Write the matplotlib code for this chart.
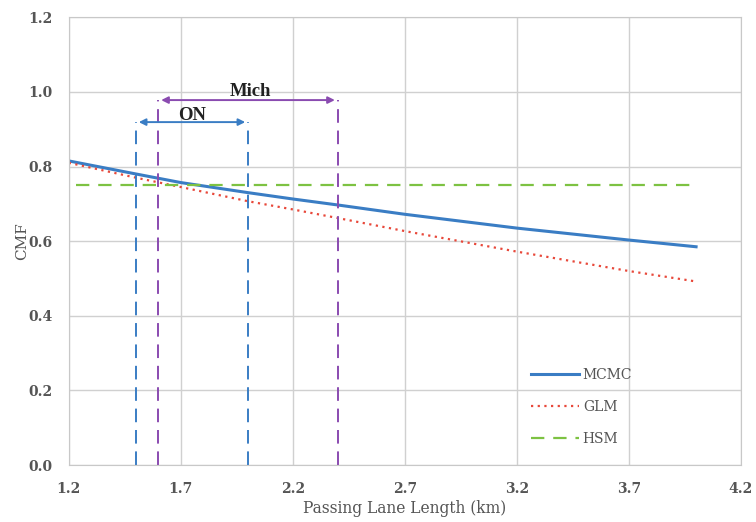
import matplotlib.pyplot as plt

# dados
x = [1.2, 1.5, 1.7, 2.0, 2.2, 2.4, 2.7, 3.2, 3.7, 4.0]
mcmc = [0.815, 0.78, 0.757, 0.73, 0.713, 0.697, 0.672, 0.635, 0.603, 0.585]
glm = [0.81, 0.77, 0.745, 0.707, 0.685, 0.662, 0.627, 0.572, 0.52, 0.492]
hsm_x = [1.23, 4.0]
hsm = [0.75, 0.75]

on_range = [1.5, 2.0]
on_top = 0.919
mich_range = [1.6, 2.4]
mich_top = 0.978

plt.rcParams['font.family'] = ['DejaVu Serif']

fig = plt.figure(figsize=(7.56, 5.22), dpi=100)
ax = fig.add_axes([0.091, 0.109, 0.889, 0.858])

blue = '#3a7dc4'
red = '#e8483a'
green = '#7dc242'
purple = '#8a4bb0'
gray = '#555555'

ax.plot(x, mcmc, color=blue, lw=2.2, label='MCMC')
ax.plot(x, glm, color=red, lw=1.6, ls=(0, (1, 2)), label='GLM')
ax.plot(hsm_x, hsm, color=green, lw=1.6, ls=(0, (6, 4)), label='HSM')

# linhas verticais dos intervalos
for v in on_range:
    ax.plot([v, v], [0, on_top], color=blue, lw=1.4, ls=(0, (7, 4)))
for v in mich_range:
    ax.plot([v, v], [0, mich_top], color=purple, lw=1.4, ls=(0, (7, 4)))

ax.annotate('', xy=(on_range[0], on_top), xytext=(on_range[1], on_top),
            arrowprops=dict(arrowstyle='<|-|>', color=blue, lw=1.4, mutation_scale=10))
ax.annotate('', xy=(mich_range[0], mich_top), xytext=(mich_range[1], mich_top),
            arrowprops=dict(arrowstyle='<|-|>', color=purple, lw=1.4, mutation_scale=10))
ax.text(1.75, 0.925, 'ON', ha='center', va='baseline', fontsize=13.5,
        fontweight='bold', color='#222222', family='Liberation Serif')
ax.text(2.01, 0.99, 'Mich', ha='center', va='baseline', fontsize=13.5,
        fontweight='bold', color='#222222', family='Liberation Serif')

ax.set_xlim(1.2, 4.2)
ax.set_ylim(0, 1.2)
ax.set_xticks([1.2, 1.7, 2.2, 2.7, 3.2, 3.7, 4.2])
ax.set_yticks([0, 0.2, 0.4, 0.6, 0.8, 1.0, 1.2])
ax.set_yticklabels(['0.0', '0.2', '0.4', '0.6', '0.8', '1.0', '1.2'])
ax.grid(True, color='#d0d0d0', lw=1)
ax.set_axisbelow(True)
for s in ax.spines.values():
    s.set_color('#c8c8c8')
ax.tick_params(length=0, labelsize=10, colors=gray)
ax.tick_params(axis='x', pad=12)
ax.tick_params(axis='y', pad=12)
for lab in ax.get_xticklabels() + ax.get_yticklabels():
    lab.set_fontweight('bold')
ax.set_xlabel('Passing Lane Length (km)', fontsize=11.2, color=gray, labelpad=3)
ax.set_ylabel('CMF', fontsize=11, color=gray, labelpad=-1)

ax.legend(loc='lower right', bbox_to_anchor=(0.857, 0.015), frameon=False,
          fontsize=10, handlelength=3.4, labelspacing=1.3, handletextpad=0.3,
          labelcolor=gray)

plt.savefig('out.png', dpi=100)
